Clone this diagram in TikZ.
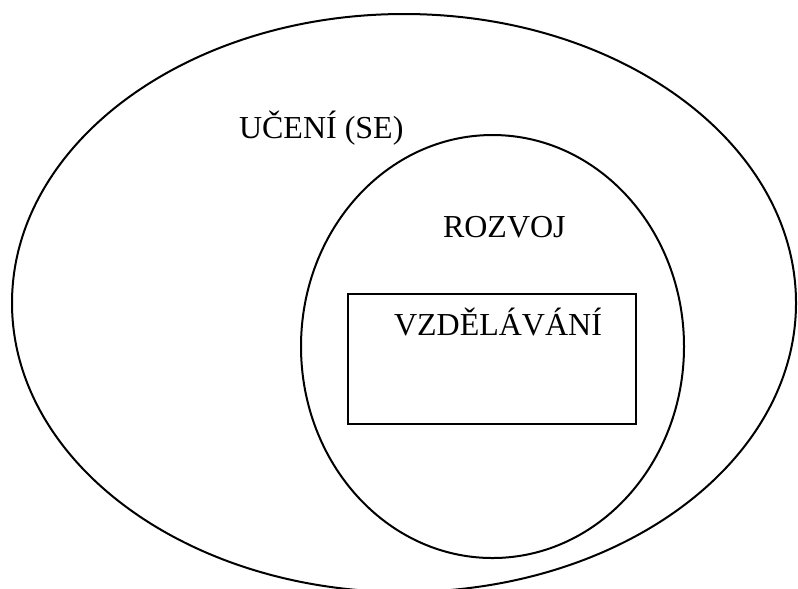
\documentclass[tikz,border=0pt]{standalone}
\usepackage{fontspec}
\setmainfont{Liberation Serif}
\usetikzlibrary{positioning}
\begin{document}
\begin{tikzpicture}[x=0.375pt, y=-0.375pt, line width=0.75pt, every node/.style={font=\fontsize{12}{14}\selectfont, inner sep=0pt}, label/.style={anchor=base west}]
\useasboundingbox (0,0) rectangle (798,588);
\clip (0,0) rectangle (798,588);
% outer set and inner set
\draw (404,303) ellipse [x radius=392, y radius=289];
\draw (492.5,346.5) ellipse [x radius=191.5, y radius=211.5];
\node[draw, minimum width=288*0.375pt, minimum height=130*0.375pt] (vzdel) at (492,359) {};
\node[label] (uceni) at (238,138) {UČENÍ (SE)};
\node[label] (rozvoj) at (442,237) {ROZVOJ};
\node[label] (vzdeltext) at (393,335) {VZDĚLÁVÁNÍ};
\end{tikzpicture}
\end{document}
